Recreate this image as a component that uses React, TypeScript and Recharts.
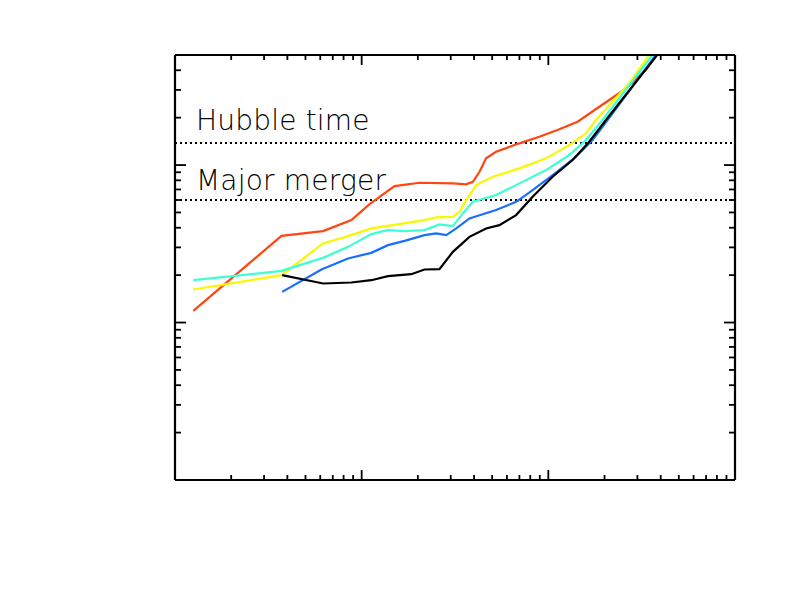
import React from 'react';
import { LineChart, Line, XAxis, YAxis, ReferenceLine } from 'recharts';

// [x, y] (x: 1..1000, y: 0.1..50)
const redCurve = [
  [1.253, 1.185], [3.72, 3.553], [6.21, 3.806], [8.81, 4.471], [11.03, 5.651], [15.0, 7.355],
  [20.4, 7.719], [30.8, 7.651], [36.3, 7.54], [39.4, 7.832], [42.8, 9.067], [46.4, 11.03],
  [52.5, 12.15], [70.0, 13.74], [89.5, 15.13], [114.5, 16.87], [143.5, 18.85],
  [211.9, 25.9], [260.4, 30.73], [332.8, 40.18], [379.4, 50.0],
];
const yellowCurve = [
  [1.253, 1.621], [3.72, 1.998], [6.21, 3.178], [8.45, 3.538], [11.27, 3.959], [21.7, 4.471],
  [25.1, 4.651], [30.8, 4.692], [33.4, 5.049], [36.3, 5.991], [41.1, 7.463], [50.4, 8.426],
  [70.0, 9.528], [97.2, 11.03], [129.5, 13.4], [159.1, 15.91], [179.9, 19.33],
  [271.2, 33.06], [346.7, 50.0],
];
const cyanCurve = [
  [1.253, 1.857], [3.72, 2.128], [6.21, 2.574], [8.45, 3.024], [11.27, 3.642], [13.83, 3.862],
  [16.98, 3.806], [21.7, 3.862], [26.1, 4.198], [30.8, 4.095], [34.8, 4.931], [39.4, 5.844],
  [52.5, 6.447], [70.0, 7.651], [97.2, 9.295], [129.5, 11.58], [159.1, 14.42],
  [195.1, 19.33], [361.3, 50.0],
];
const blueCurve = [
  [3.75, 1.565], [6.09, 2.172], [8.45, 2.552], [11.27, 2.77], [13.83, 3.1], [16.98, 3.302],
  [21.7, 3.589], [25.1, 3.68], [28.4, 3.589], [32.1, 3.959], [37.8, 4.583], [52.5, 5.177],
  [67.2, 5.844], [82.4, 6.935], [105.5, 8.639], [140.6, 11.29], [172.6, 14.42],
  [207.6, 19.33], [376.7, 50.0],
];
const blackCurve = [
  [3.75, 1.998], [6.21, 1.77], [8.81, 1.796], [11.27, 1.857], [13.83, 1.97], [18.44, 2.028],
  [21.7, 2.172], [26.1, 2.182], [30.8, 2.811], [37.8, 3.5], [46.4, 3.959], [54.7, 4.156],
  [67.2, 4.811], [82.4, 6.288], [105.5, 8.426], [134.9, 10.76], [165.6, 14.07],
  [203.5, 19.33], [382.8, 50.0],
];

const xDomain = [1, 1000];
const yDomain = [0.1, 50];
const xMajorTicks = [10, 100];
const xMinorTicks = [2, 3, 4, 5, 6, 7, 8, 9, 20, 30, 40, 50, 60, 70, 80, 90, 200, 300, 400, 500, 600, 700, 800, 900];
const yMajorTicks = [1, 10];
const yMinorTicks = [0.2, 0.3, 0.4, 0.5, 0.6, 0.7, 0.8, 0.9, 2, 3, 4, 5, 6, 7, 8, 9, 20, 30, 40];

const hubbleTime = 13.8;
const majorMerger = 6.0;

const series = [
  { name: 'red', data: redCurve, color: '#ff4612' },
  { name: 'yellow', data: yellowCurve, color: '#f8f800' },
  { name: 'cyan', data: cyanCurve, color: '#3cffd2' },
  { name: 'blue', data: blueCurve, color: '#1a6eff' },
  { name: 'black', data: blackCurve, color: '#000000' },
];

const toPoints = (arr: number[][]) => arr.map(([x, y]) => ({ x, y }));

const axisLine = { stroke: '#000', strokeWidth: 2.2 };
const tickLine = { stroke: '#000', strokeWidth: 1.8 };
const thin = 0.01; // mirrored axes, keep them from stacking
const noLabel = () => <g />;

const refLabel = (text: string, dy: number) => (props: any) => {
  const vb = props.viewBox || {};
  return (
    <text x={vb.x + 21} y={vb.y - dy} fontFamily="DejaVu Sans" fontWeight={300} fontSize={28}
      letterSpacing={0.2} fill="#000">
      {text}
    </text>
  );
};

export default function App() {
  return (
    <div style={{ position: 'absolute', left: 0, top: 0, background: '#fff' }}>
      <LineChart width={786} height={591} margin={{ top: 55, right: 51, bottom: 111, left: 175 }}>
        <XAxis xAxisId="b" dataKey="x" type="number" scale="log" domain={xDomain} allowDataOverflow
          orientation="bottom" mirror height={thin} ticks={xMajorTicks} interval={0} tick={noLabel}
          tickSize={10} axisLine={axisLine} tickLine={tickLine} />
        <XAxis xAxisId="bm" dataKey="x" type="number" scale="log" domain={xDomain} allowDataOverflow
          orientation="bottom" mirror height={thin} ticks={xMinorTicks} interval={0} tick={noLabel}
          tickSize={5} axisLine={false} tickLine={tickLine} />
        <XAxis xAxisId="t" dataKey="x" type="number" scale="log" domain={xDomain} allowDataOverflow
          orientation="top" mirror height={thin} ticks={xMajorTicks} interval={0} tick={noLabel}
          tickSize={10} axisLine={axisLine} tickLine={tickLine} />
        <XAxis xAxisId="tm" dataKey="x" type="number" scale="log" domain={xDomain} allowDataOverflow
          orientation="top" mirror height={thin} ticks={xMinorTicks} interval={0} tick={noLabel}
          tickSize={5} axisLine={false} tickLine={tickLine} />
        <YAxis yAxisId="l" dataKey="y" type="number" scale="log" domain={yDomain} allowDataOverflow
          orientation="left" mirror width={thin} ticks={yMajorTicks} interval={0} tick={noLabel}
          tickSize={11} axisLine={axisLine} tickLine={tickLine} />
        <YAxis yAxisId="lm" dataKey="y" type="number" scale="log" domain={yDomain} allowDataOverflow
          orientation="left" mirror width={thin} ticks={yMinorTicks} interval={0} tick={noLabel}
          tickSize={6} axisLine={false} tickLine={tickLine} />
        <YAxis yAxisId="r" dataKey="y" type="number" scale="log" domain={yDomain} allowDataOverflow
          orientation="right" mirror width={thin} ticks={yMajorTicks} interval={0} tick={noLabel}
          tickSize={11} axisLine={axisLine} tickLine={tickLine} />
        <YAxis yAxisId="rm" dataKey="y" type="number" scale="log" domain={yDomain} allowDataOverflow
          orientation="right" mirror width={thin} ticks={yMinorTicks} interval={0} tick={noLabel}
          tickSize={6} axisLine={false} tickLine={tickLine} />

        <ReferenceLine xAxisId="b" yAxisId="l" y={hubbleTime} stroke="#000" strokeWidth={2}
          strokeDasharray="2 3" label={refLabel('Hubble time', 13)} />
        <ReferenceLine xAxisId="b" yAxisId="l" y={majorMerger} stroke="#000" strokeWidth={2}
          strokeDasharray="2 3" label={refLabel('Major merger', 10)} />

        {series.map((s) => (
          <Line key={s.name} xAxisId="b" yAxisId="l" data={toPoints(s.data)} dataKey="y"
            type="linear" stroke={s.color} strokeWidth={2.2} dot={false} isAnimationActive={false} />
        ))}
      </LineChart>
    </div>
  );
}
